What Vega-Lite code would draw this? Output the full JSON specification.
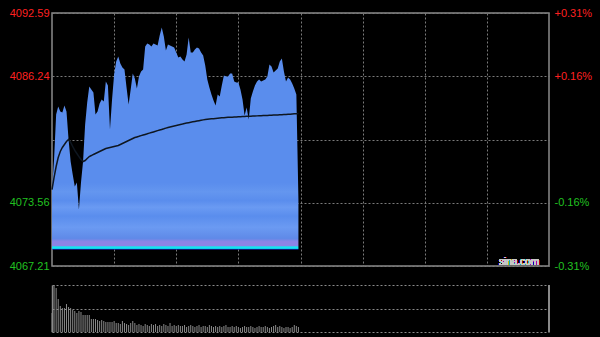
{
 "$schema": "https://vega.github.io/schema/vega-lite/v6.json",
 "background": "#000000",
 "padding": {"left": 8, "top": 6, "right": 9, "bottom": 5},
 "bounds": "flush",
 "spacing": 19,
 "config": {"font": "Liberation Sans", "axis": {"labelFont": "Liberation Sans", "labelFontSize": 11}},
 "data": {"values": [
  {"m":0,"p":4074.88,"a":4074.88,"v":19},{"m":1,"p":4077.89,"a":4076.09,"v":47},{"m":2,"p":4082.41,"a":4077.19,"v":44},{"m":3,"p":4083.21,"a":4078.09,"v":33},{"m":4,"p":4082.71,"a":4078.70,"v":26},
  {"m":5,"p":4082.61,"a":4079.10,"v":24},{"m":6,"p":4083.31,"a":4079.40,"v":24},{"m":7,"p":4082.71,"a":4079.70,"v":28},{"m":8,"p":4079.90,"a":4079.90,"v":25},{"m":9,"p":4077.69,"a":4079.60,"v":24},
  {"m":10,"p":4076.39,"a":4079.20,"v":22},{"m":11,"p":4075.19,"a":4078.80,"v":21},{"m":12,"p":4075.59,"a":4078.50,"v":19},{"m":13,"p":4072.88,"a":4078.19,"v":21},{"m":14,"p":4075.59,"a":4077.89,"v":20},
  {"m":15,"p":4077.69,"a":4077.69,"v":17},{"m":16,"p":4081.40,"a":4077.79,"v":17},{"m":17,"p":4083.61,"a":4077.99,"v":17},{"m":18,"p":4085.22,"a":4078.19,"v":17},{"m":19,"p":4084.92,"a":4078.29,"v":13},
  {"m":20,"p":4084.62,"a":4078.40,"v":13},{"m":21,"p":4082.41,"a":4078.50,"v":13},{"m":22,"p":4082.71,"a":4078.60,"v":12},{"m":23,"p":4083.51,"a":4078.70,"v":11},{"m":24,"p":4083.91,"a":4078.80,"v":12},
  {"m":25,"p":4083.71,"a":4078.90,"v":11},{"m":26,"p":4085.72,"a":4079.00,"v":10},{"m":27,"p":4085.32,"a":4079.05,"v":10},{"m":28,"p":4080.90,"a":4079.10,"v":10},{"m":29,"p":4083.91,"a":4079.15,"v":10},
  {"m":30,"p":4086.42,"a":4079.20,"v":11},{"m":31,"p":4087.72,"a":4079.25,"v":9},{"m":32,"p":4088.23,"a":4079.30,"v":9},{"m":33,"p":4087.52,"a":4079.40,"v":8},{"m":34,"p":4087.12,"a":4079.50,"v":11},
  {"m":35,"p":4086.92,"a":4079.60,"v":9},{"m":36,"p":4085.12,"a":4079.70,"v":8},{"m":37,"p":4083.41,"a":4079.80,"v":7},{"m":38,"p":4084.92,"a":4079.90,"v":9},{"m":39,"p":4086.52,"a":4080.00,"v":11},
  {"m":40,"p":4086.02,"a":4080.10,"v":9},{"m":41,"p":4085.02,"a":4080.16,"v":7},{"m":42,"p":4086.22,"a":4080.22,"v":8},{"m":43,"p":4086.72,"a":4080.29,"v":7},{"m":44,"p":4086.92,"a":4080.35,"v":6},
  {"m":45,"p":4089.23,"a":4080.41,"v":8},{"m":46,"p":4089.53,"a":4080.47,"v":7},{"m":47,"p":4089.43,"a":4080.54,"v":6},{"m":48,"p":4089.23,"a":4080.60,"v":8},{"m":49,"p":4089.53,"a":4080.66,"v":7},
  {"m":50,"p":4089.43,"a":4080.72,"v":8},{"m":51,"p":4089.33,"a":4080.79,"v":6},{"m":52,"p":4090.33,"a":4080.85,"v":7},{"m":53,"p":4091.14,"a":4080.91,"v":6},{"m":54,"p":4090.23,"a":4080.97,"v":8},
  {"m":55,"p":4088.83,"a":4081.04,"v":7},{"m":56,"p":4089.43,"a":4081.10,"v":6},{"m":57,"p":4089.33,"a":4081.15,"v":9},{"m":58,"p":4089.23,"a":4081.20,"v":6},{"m":59,"p":4089.13,"a":4081.25,"v":7},
  {"m":60,"p":4088.63,"a":4081.30,"v":6},{"m":61,"p":4088.13,"a":4081.35,"v":7},{"m":62,"p":4088.23,"a":4081.40,"v":6},{"m":63,"p":4087.93,"a":4081.45,"v":6},{"m":64,"p":4087.72,"a":4081.51,"v":7},
  {"m":65,"p":4088.43,"a":4081.55,"v":5},{"m":66,"p":4090.13,"a":4081.59,"v":6},{"m":67,"p":4088.63,"a":4081.63,"v":7},{"m":68,"p":4088.63,"a":4081.67,"v":6},{"m":69,"p":4088.93,"a":4081.71,"v":5},
  {"m":70,"p":4089.13,"a":4081.75,"v":6},{"m":71,"p":4089.03,"a":4081.79,"v":7},{"m":72,"p":4088.63,"a":4081.83,"v":5},{"m":73,"p":4088.33,"a":4081.87,"v":6},{"m":74,"p":4087.32,"a":4081.91,"v":6},
  {"m":75,"p":4085.92,"a":4081.93,"v":5},{"m":76,"p":4085.12,"a":4081.95,"v":7},{"m":77,"p":4084.41,"a":4081.97,"v":6},{"m":78,"p":4083.81,"a":4081.99,"v":5},{"m":79,"p":4083.31,"a":4082.01,"v":6},
  {"m":80,"p":4084.41,"a":4082.03,"v":5},{"m":81,"p":4084.21,"a":4082.05,"v":6},{"m":82,"p":4085.32,"a":4082.07,"v":5},{"m":83,"p":4086.32,"a":4082.09,"v":6},{"m":84,"p":4086.22,"a":4082.11,"v":7},
  {"m":85,"p":4086.22,"a":4082.12,"v":5},{"m":86,"p":4086.52,"a":4082.13,"v":5},{"m":87,"p":4086.52,"a":4082.14,"v":6},{"m":88,"p":4085.72,"a":4082.15,"v":5},{"m":89,"p":4085.62,"a":4082.16,"v":6},
  {"m":90,"p":4085.62,"a":4082.17,"v":5},{"m":91,"p":4084.92,"a":4082.18,"v":4},{"m":92,"p":4083.91,"a":4082.20,"v":5},{"m":93,"p":4082.31,"a":4082.21,"v":6},{"m":94,"p":4083.11,"a":4082.22,"v":5},
  {"m":95,"p":4081.91,"a":4082.23,"v":5},{"m":96,"p":4084.01,"a":4082.24,"v":6},{"m":97,"p":4084.72,"a":4082.25,"v":5},{"m":98,"p":4085.32,"a":4082.26,"v":4},{"m":99,"p":4085.72,"a":4082.27,"v":5},
  {"m":100,"p":4085.92,"a":4082.28,"v":6},{"m":101,"p":4085.72,"a":4082.29,"v":5},{"m":102,"p":4085.82,"a":4082.30,"v":5},{"m":103,"p":4085.92,"a":4082.31,"v":6},{"m":104,"p":4086.22,"a":4082.32,"v":5},
  {"m":105,"p":4087.42,"a":4082.33,"v":4},{"m":106,"p":4087.22,"a":4082.34,"v":5},{"m":107,"p":4086.62,"a":4082.35,"v":6},{"m":108,"p":4086.82,"a":4082.36,"v":7},{"m":109,"p":4087.02,"a":4082.37,"v":5},
  {"m":110,"p":4087.72,"a":4082.38,"v":6},{"m":111,"p":4088.03,"a":4082.39,"v":5},{"m":112,"p":4086.72,"a":4082.40,"v":4},{"m":113,"p":4085.72,"a":4082.41,"v":5},{"m":114,"p":4086.12,"a":4082.43,"v":5},
  {"m":115,"p":4085.92,"a":4082.44,"v":4},{"m":116,"p":4085.52,"a":4082.46,"v":5},{"m":117,"p":4085.02,"a":4082.48,"v":7},{"m":118,"p":4084.41,"a":4082.49,"v":6},{"m":119,"p":4073.88,"a":4082.51,"v":5}
 ]},
 "vconcat": [
  {
   "width": 497, "height": 253,
   "view": {"stroke": "#8a8a8a", "strokeWidth": 1.5},
   "layer": [
    {
     "mark": {"type": "area", "stroke": null, "fill": {"x1": 0, "y1": 0, "x2": 0, "y2": 1, "gradient": "linear", "stops": [
       {"offset": 0, "color": "#5a8ded"}, {"offset": 0.7, "color": "#5a8ded"}, {"offset": 0.74, "color": "#6496ef"}, {"offset": 0.78, "color": "#5a8ded"}, {"offset": 0.81, "color": "#6a9af2"}, {"offset": 0.85, "color": "#5a8ded"},
       {"offset": 0.9, "color": "#6b9af2"}, {"offset": 0.95, "color": "#5f8ae8"}, {"offset": 0.965, "color": "#8c84e6"}, {"offset": 0.984, "color": "#8c84e6"},
       {"offset": 0.988, "color": "#12e6f0"}, {"offset": 0.995, "color": "#12e6f0"}, {"offset": 1, "color": "#1838e0"}]}},
     "encoding": {
      "x": {"field": "m", "type": "quantitative", "scale": {"domain": [0, 240], "nice": false},
            "axis": {"values": [30, 60, 90, 120, 150, 180, 210], "grid": true, "gridColor": "#7a7a7a", "gridDash": [2, 2], "labels": false, "ticks": false, "domain": false, "title": null}},
      "y": {"field": "p", "type": "quantitative", "scale": {"domain": [4067.21, 4092.59], "nice": false, "zero": false},
            "axis": {"values": [4067.21, 4073.56, 4079.9, 4086.24, 4092.59], "labelExpr": "datum.value == 4079.9 ? '' : format(datum.value, '.2f')",
                     "labelColor": {"condition": {"test": "datum.value > 4079.9", "value": "#ff2020"}, "value": "#20c020"},
                     "grid": true, "gridColor": "#7a7a7a", "gridDash": [2, 2], "domain": false, "ticks": false, "labelPadding": 3, "title": null}},
      "y2": {"datum": 4068.87}
     }
    },
    {
     "mark": {"type": "line", "color": "#0e1620", "strokeWidth": 1.5},
     "encoding": {
      "x": {"field": "m", "type": "quantitative"},
      "y": {"field": "a", "type": "quantitative", "scale": {"domain": [4067.21, 4092.59], "nice": false, "zero": false},
            "axis": {"orient": "right", "values": [4067.21, 4073.56, 4079.9, 4086.24, 4092.59],
                     "labelExpr": "datum.value == 4079.9 ? '' : (datum.value > 4079.9 ? '+' : '-') + format(abs(datum.value - 4079.9) / 4079.9 * 100, '.2f') + '%'",
                     "labelColor": {"condition": {"test": "datum.value > 4079.9", "value": "#ff2020"}, "value": "#20c020"},
                     "grid": false, "domain": false, "ticks": false, "labelPadding": 5, "title": null}}
     }
    },
    {
     "mark": {"type": "text", "text": "sina.com", "color": "#c8c8c8", "fontSize": 10, "baseline": "bottom"},
     "encoding": {
      "x": {"datum": 225.5, "type": "quantitative"},
      "y": {"datum": 4067.1, "type": "quantitative", "scale": {"domain": [4067.21, 4092.59], "nice": false, "zero": false}, "axis": null}
     }
    }
   ],
   "resolve": {"axis": {"y": "independent"}}
  },
  {
   "width": 497, "height": 47,
   "view": {"stroke": null},
   "layer": [
    {
     "mark": {"type": "rule", "color": "#8a8a8a", "strokeWidth": 1},
     "encoding": {
      "x": {"field": "m", "type": "quantitative", "scale": {"domain": [0, 240], "nice": false}, "axis": null},
      "y": {"field": "v", "type": "quantitative", "scale": {"domain": [0, 47], "nice": false},
            "axis": {"values": [0, 23.5, 47], "grid": true, "gridColor": "#8a8a8a", "gridDash": [2, 2], "labels": false, "ticks": false, "domain": true, "domainColor": "#8a8a8a", "domainWidth": 1.5, "title": null}},
      "y2": {"datum": 0}
     }
    },
    {
     "mark": {"type": "rule", "color": "#8a8a8a", "strokeWidth": 1.5},
     "encoding": {"x": {"datum": 240, "type": "quantitative"}}
    }
   ]
  }
 ]
}
